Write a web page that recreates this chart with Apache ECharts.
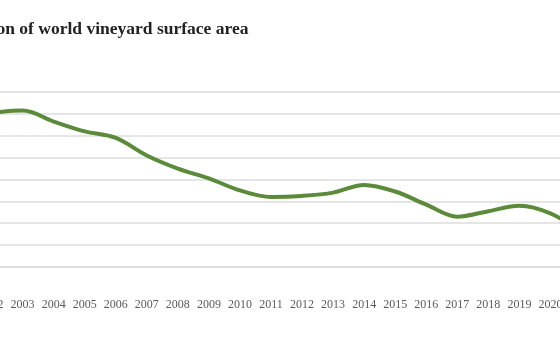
<!DOCTYPE html>
<html>
<head>
<meta charset="utf-8">
<script src="https://cdn.jsdelivr.net/npm/echarts@6/dist/echarts.min.js"></script>
<style>html,body{margin:0;padding:0;background:#fff}#c{width:560px;height:350px}</style>
</head>
<body>
<div id="c"></div>
<script>
const titleText = 'Evolution of world vineyard surface area';
const years = ['2002','2003','2004','2005','2006','2007','2008','2009','2010','2011','2012','2013','2014','2015','2016','2017','2018','2019','2020','2021'];
const area = [8.01,8.03,7.93,7.84,7.78,7.62,7.50,7.41,7.30,7.24,7.25,7.28,7.35,7.29,7.17,7.06,7.11,7.16,7.09,6.92];

const chart = echarts.init(document.getElementById('c'));
chart.setOption({
  animation: false,
  backgroundColor: '#fff',
  title: {
    text: titleText,
    left: -63, top: 15,
    textStyle: {fontFamily: 'Liberation Serif', fontWeight: 'bold', fontSize: 17.5, color: '#222'}
  },
  grid: {left: -24, right: -37, top: 92, bottom: 83, containLabel: false, outerBoundsMode: 'none'},
  xAxis: {
    type: 'category', data: years, boundaryGap: true,
    axisLine: {lineStyle: {color: '#dcdcdc', width: 1.5}},
    axisTick: {show: false},
    axisLabel: {margin: 32, fontFamily: 'Liberation Serif', fontSize: 12, color: '#5a5a5a', interval: 0}
  },
  yAxis: {
    type: 'value', min: 6.6, max: 8.2, interval: 0.2,
    axisLabel: {show: false}, axisLine: {show: false}, axisTick: {show: false},
    splitLine: {lineStyle: {color: '#dcdcdc', width: 1.5}}
  },
  series: [{
    type: 'line', data: area, smooth: 0.35, symbol: 'none',
    lineStyle: {color: '#5a8a3a', width: 4}
  }]
});
</script>
</body>
</html>
